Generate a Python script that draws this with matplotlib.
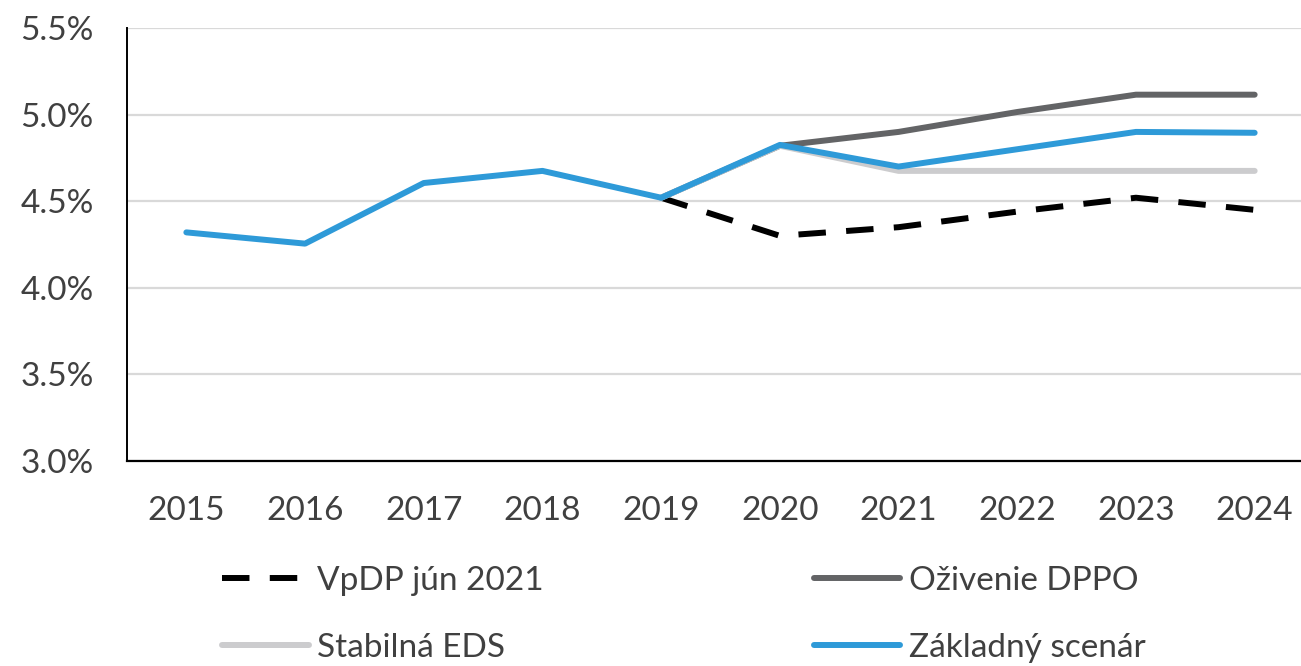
import numpy as np
import matplotlib
matplotlib.use("Agg")
import matplotlib.pyplot as plt
from matplotlib.lines import Line2D

plt.rcParams['font.family'] = ['Lato', 'DejaVu Sans']

years = [2015, 2016, 2017, 2018, 2019, 2020, 2021, 2022, 2023, 2024]
nan = np.nan
vpdp = [nan, nan, nan, nan, 4.52, 4.30, 4.35, 4.44, 4.52, 4.45]
oziv = [nan, nan, nan, nan, 4.52, 4.82, 4.90, 5.015, 5.115, 5.115]
stab = [nan, nan, nan, nan, 4.52, 4.82, 4.675, 4.675, 4.675, 4.675]
zakl = [4.32, 4.255, 4.605, 4.675, 4.52, 4.825, 4.70, 4.80, 4.90, 4.895]

labels = ['VpDP jún 2021', 'Oživenie DPPO', 'Stabilná EDS', 'Základný scenár']
colors = ['#000000', '#636466', '#CCCCCE', '#2E9AD8']

fig = plt.figure(figsize=(13.01, 6.66), dpi=100)
ax = fig.add_axes([127 / 1301, 205 / 666, 1187 / 1301, 433 / 666])

x = np.arange(len(years))
lw = 4.3
ax.plot(x, vpdp, color=colors[0], lw=lw, dashes=(4.6, 3.4), zorder=2)
ax.plot(x, oziv, color=colors[1], lw=lw, solid_capstyle='round', zorder=3)
ax.plot(x, stab, color=colors[2], lw=lw, solid_capstyle='round', zorder=3)
ax.plot(x, zakl, color=colors[3], lw=lw, solid_capstyle='round', zorder=4)

ax.set_xlim(-0.5, 9.5)
ax.set_ylim(3.0, 5.5)
yt = [3.0, 3.5, 4.0, 4.5, 5.0, 5.5]
ax.set_yticks(yt)
ax.set_yticklabels([f'{v:.1f}%' for v in yt])
ax.set_xticks(x)
ax.set_xticklabels([str(y) for y in years])
ax.tick_params(axis='both', length=0, labelsize=24, labelcolor='#404040')
ax.tick_params(axis='y', pad=24)
ax.tick_params(axis='x', pad=25)

ax.grid(axis='y', color='#D9D9D9', lw=1.6, zorder=0)
ax.set_axisbelow(True)
for s in ['top', 'right']:
    ax.spines[s].set_visible(False)
ax.spines['left'].set_linewidth(1.4)
ax.spines['bottom'].set_linewidth(1.6)

handles = [Line2D([], [], color=colors[0], lw=lw, dashes=(4.6, 3.4)),
           Line2D([], [], color=colors[2], lw=lw, solid_capstyle='round'),
           Line2D([], [], color=colors[1], lw=lw, solid_capstyle='round'),
           Line2D([], [], color=colors[3], lw=lw, solid_capstyle='round')]
fig.legend(handles, [labels[0], labels[2], labels[1], labels[3]],
           ncol=2, loc='upper left', bbox_to_anchor=(192 / 1301, 1 - 536 / 666),
           frameon=False, fontsize=24, handlelength=2.6, handletextpad=0.25,
           columnspacing=8.1, labelspacing=1.1, labelcolor='#404040')

fig.savefig('out.png', dpi=100)
